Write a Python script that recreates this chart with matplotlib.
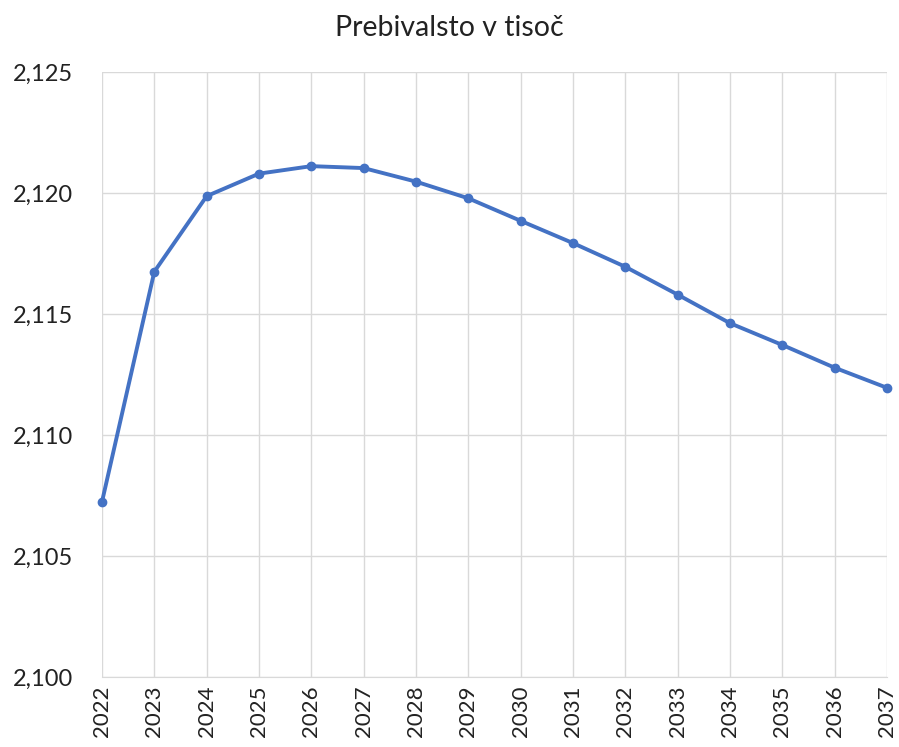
import matplotlib
matplotlib.use("Agg")
import matplotlib.pyplot as plt
from matplotlib.ticker import FuncFormatter, MultipleLocator

years = ["2022", "2023", "2024", "2025", "2026", "2027", "2028", "2029",
         "2030", "2031", "2032", "2033", "2034", "2035", "2036", "2037"]
population = [2107.24, 2116.75, 2119.87, 2120.80, 2121.11, 2121.03, 2120.47, 2119.78,
              2118.85, 2117.93, 2116.95, 2115.80, 2114.62, 2113.72, 2112.78, 2111.95]
title = "Prebivalsto v tisoč"

plt.rcParams['font.family'] = ['Lato', 'DejaVu Sans']

fig = plt.figure(figsize=(8.99, 7.47), dpi=100)
ax = fig.add_axes([102/899, 70/747, (887-102)/899, (677-72)/747])

x = list(range(len(years)))
ax.plot(x, population, color="#4472C4", linewidth=2.8, marker="o", markersize=6,
        solid_capstyle="round", solid_joinstyle="round", zorder=3, clip_on=False)

ax.set_xlim(0, len(years) - 1)
ax.set_ylim(2100, 2125)
ax.yaxis.set_major_locator(MultipleLocator(5))
ax.yaxis.set_major_formatter(FuncFormatter(lambda v, p: f"{v:,.0f}"))
ax.set_xticks(x)
ax.set_xticklabels(years, rotation=90)

ax.grid(True, color="#D9D9D9", linewidth=1)
ax.set_axisbelow(True)
for s in ["top", "right", "left"]:
    ax.spines[s].set_visible(False)
ax.spines["bottom"].set_color("#D9D9D9")
ax.tick_params(length=0, labelsize=16, colors="#222222", pad=6)
ax.tick_params(axis="y", labelsize=17, pad=21)

fig.text(0.5, 1 - 28/747, title, ha="center", va="center", fontsize=20.5, color="#222222")

fig.savefig("out.png", dpi=100, facecolor="white")
